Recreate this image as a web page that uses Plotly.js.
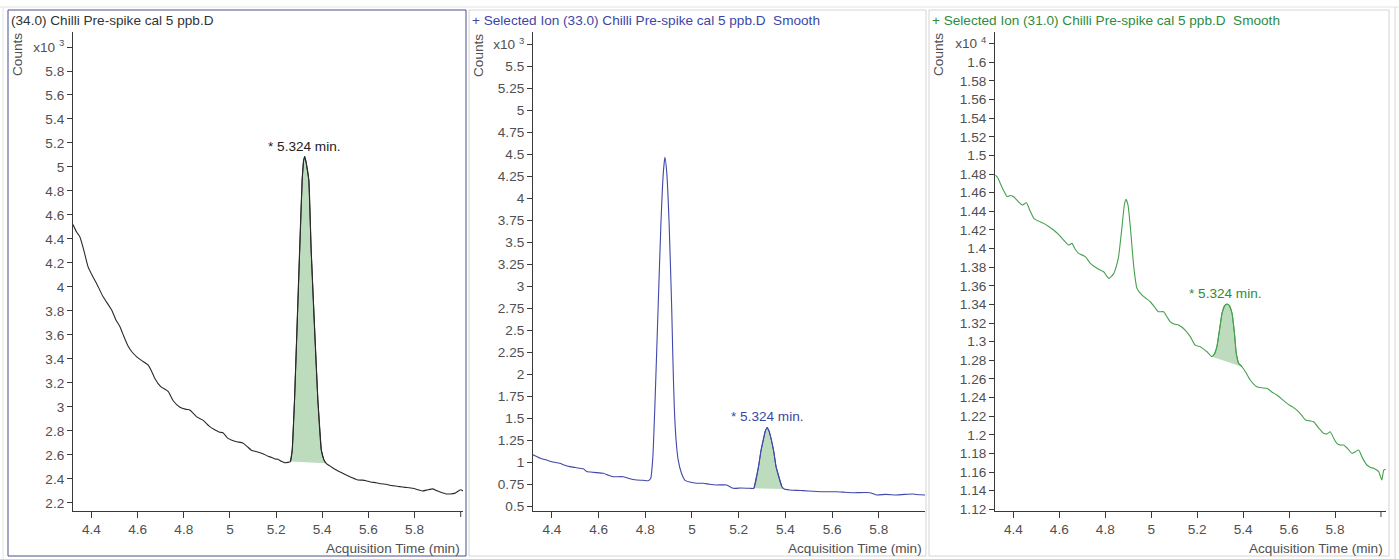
<!DOCTYPE html>
<html>
<head>
<meta charset="utf-8">
<script src="https://cdn.plot.ly/plotly-3.0.1.min.js"></script>
<style>html,body{margin:0;padding:0;background:#fff;}#chart{width:1399px;height:559px;}</style>
</head>
<body>
<div id="chart"></div>
<script>
// ---------- DATA ----------
const titles = [
  "(34.0) Chilli Pre-spike cal 5 ppb.D",
  "+ Selected Ion (33.0) Chilli Pre-spike cal 5 ppb.D  Smooth",
  "+ Selected Ion (31.0) Chilli Pre-spike cal 5 ppb.D  Smooth"
];
const peakLabel = "* 5.324 min.";
const peakRT = 5.324;
const xTitle = "Acquisition Time (min)";
const yTitle = "Counts";

const xTickVals = [4.4, 4.6, 4.8, 5.0, 5.2, 5.4, 5.6, 5.8];
const xTickText = ["4.4", "4.6", "4.8", "5", "5.2", "5.4", "5.6", "5.8"];
const xEndTick = 6.0;

const yTickVals1 = [2.2, 2.4, 2.6, 2.8, 3, 3.2, 3.4, 3.6, 3.8, 4, 4.2, 4.4, 4.6, 4.8, 5, 5.2, 5.4, 5.6, 5.8, 6.0];
const yTickText1 = ["2.2", "2.4", "2.6", "2.8", "3", "3.2", "3.4", "3.6", "3.8", "4", "4.2", "4.4", "4.6", "4.8", "5", "5.2", "5.4", "5.6", "5.8", "x10 <sup>3</sup>"];
const yTickVals2 = [0.5, 0.75, 1, 1.25, 1.5, 1.75, 2, 2.25, 2.5, 2.75, 3, 3.25, 3.5, 3.75, 4, 4.25, 4.5, 4.75, 5, 5.25, 5.5, 5.75];
const yTickText2 = ["0.5", "0.75", "1", "1.25", "1.5", "1.75", "2", "2.25", "2.5", "2.75", "3", "3.25", "3.5", "3.75", "4", "4.25", "4.5", "4.75", "5", "5.25", "5.5", "x10 <sup>3</sup>"];
const yTickVals3 = [1.12, 1.14, 1.16, 1.18, 1.2, 1.22, 1.24, 1.26, 1.28, 1.3, 1.32, 1.34, 1.36, 1.38, 1.4, 1.42, 1.44, 1.46, 1.48, 1.5, 1.52, 1.54, 1.56, 1.58, 1.6, 1.62];
const yTickText3 = ["1.12", "1.14", "1.16", "1.18", "1.2", "1.22", "1.24", "1.26", "1.28", "1.3", "1.32", "1.34", "1.36", "1.38", "1.4", "1.42", "1.44", "1.46", "1.48", "1.5", "1.52", "1.54", "1.56", "1.58", "1.6", "x10 <sup>4</sup>"];

// Panel 1: (34.0) trace, counts x10^3
const time1 = [4.320, 4.335, 4.349, 4.365, 4.385, 4.405, 4.422, 4.450, 4.487, 4.505, 4.523, 4.540, 4.558, 4.575, 4.595, 4.615, 4.645, 4.660, 4.674, 4.700, 4.732, 4.755, 4.782, 4.810, 4.826, 4.855, 4.883, 4.910, 4.934, 4.955, 4.970, 4.990, 5.006, 5.030, 5.056, 5.075, 5.093, 5.120, 5.143, 5.165, 5.179, 5.195, 5.208, 5.225, 5.237, 5.250,
  5.262, 5.270, 5.280, 5.291, 5.302, 5.313, 5.319, 5.324, 5.330, 5.342, 5.352, 5.366, 5.381, 5.396, 5.407, 5.417,
  5.440, 5.461, 5.480, 5.504, 5.530, 5.554, 5.575, 5.590, 5.610, 5.634, 5.655, 5.677, 5.700, 5.735, 5.760, 5.792, 5.815, 5.835, 5.858, 5.879, 5.900, 5.920, 5.937, 5.955, 5.973, 5.990, 6.000, 6.010];
const counts1 = [4.52, 4.46, 4.42, 4.32, 4.17, 4.09, 4.03, 3.92, 3.81, 3.73, 3.67, 3.59, 3.51, 3.46, 3.42, 3.39, 3.35, 3.30, 3.24, 3.17, 3.13, 3.05, 3.00, 2.98, 2.975, 2.92, 2.89, 2.84, 2.81, 2.79, 2.786, 2.74, 2.725, 2.71, 2.70, 2.67, 2.64, 2.625, 2.61, 2.59, 2.58, 2.567, 2.564, 2.545, 2.536, 2.538,
  2.545, 2.64, 3.06, 3.68, 4.31, 4.89, 5.05, 5.086, 5.04, 4.89, 4.31, 3.68, 3.06, 2.64, 2.56, 2.53,
  2.50, 2.475, 2.455, 2.433, 2.41, 2.392, 2.39, 2.385, 2.375, 2.369, 2.36, 2.356, 2.345, 2.336, 2.33, 2.322, 2.31, 2.30, 2.31, 2.317, 2.30, 2.285, 2.275, 2.275, 2.28, 2.30, 2.31, 2.30];
const peak1 = [5.262, 5.417];

// Panel 2: Selected Ion (33.0), counts x10^3
const time2 = [4.319, 4.335, 4.350, 4.377, 4.400, 4.434, 4.455, 4.477, 4.500, 4.520, 4.535, 4.549, 4.580, 4.620, 4.640, 4.663, 4.705, 4.730, 4.763, 4.790, 4.812,
  4.823, 4.832, 4.841, 4.848, 4.855, 4.867, 4.877, 4.884, 4.892, 4.902, 4.913, 4.918, 4.924, 4.932, 4.941, 4.955, 4.970,
  4.990, 5.020, 5.048, 5.075, 5.105, 5.148, 5.177, 5.210, 5.248,
  5.265, 5.285, 5.295, 5.305, 5.314, 5.322, 5.330, 5.340, 5.350, 5.360, 5.385, 5.395,
  5.419, 5.450, 5.476, 5.520, 5.562, 5.619, 5.650, 5.690, 5.762, 5.790, 5.830, 5.876, 5.910, 5.947, 5.975, 5.998];
const counts2 = [1.09, 1.07, 1.05, 1.03, 1.01, 0.993, 0.97, 0.955, 0.945, 0.936, 0.93, 0.90, 0.89, 0.88, 0.86, 0.841, 0.841, 0.82, 0.803, 0.80, 0.795,
  0.82, 1.05, 1.64, 2.20, 2.77, 3.72, 4.29, 4.47, 4.29, 3.72, 2.77, 2.20, 1.64, 1.25, 1.03, 0.88, 0.80,
  0.78, 0.766, 0.766, 0.755, 0.747, 0.747, 0.709, 0.712, 0.709,
  0.709, 0.955, 1.13, 1.258, 1.36, 1.40, 1.36, 1.258, 1.13, 0.955, 0.727, 0.70,
  0.69, 0.685, 0.682, 0.675, 0.67, 0.67, 0.665, 0.659, 0.659, 0.633, 0.64, 0.633, 0.64, 0.644, 0.635, 0.633];
const peak2 = [5.265, 5.395];

// Panel 3: Selected Ion (31.0), counts x10^4
const time3 = [4.322, 4.332, 4.343, 4.358, 4.373, 4.387, 4.401, 4.423, 4.438, 4.457, 4.470, 4.489, 4.510, 4.532, 4.555, 4.575, 4.595, 4.612, 4.641, 4.655, 4.670, 4.684, 4.713, 4.735, 4.764, 4.793, 4.805, 4.815, 4.826, 4.837,
  4.848, 4.858, 4.866, 4.873, 4.883, 4.890, 4.899, 4.909, 4.917, 4.924, 4.938, 4.960, 4.975, 4.996, 5.015, 5.032, 5.054, 5.068, 5.083, 5.100, 5.119, 5.148, 5.170, 5.191, 5.214, 5.228, 5.243,
  5.265, 5.276, 5.286, 5.297, 5.308, 5.320, 5.330, 5.340, 5.352, 5.362, 5.370, 5.380, 5.395,
  5.412, 5.431, 5.460, 5.480, 5.504, 5.525, 5.547, 5.570, 5.591, 5.615, 5.634, 5.655, 5.671, 5.690, 5.707, 5.730, 5.750, 5.765, 5.779, 5.795, 5.808, 5.822, 5.837, 5.856, 5.874, 5.890, 5.903, 5.920, 5.939, 5.955, 5.968, 5.990, 5.998, 6.004, 6.012, 6.020];
const counts3 = [1.479, 1.476, 1.470, 1.462, 1.4557, 1.457, 1.4557, 1.450, 1.4468, 1.4492, 1.442, 1.4325, 1.4295, 1.4271, 1.4235, 1.420, 1.4155, 1.411, 1.4038, 1.4056, 1.399, 1.3949, 1.3913, 1.3842, 1.3788, 1.3751, 1.371, 1.368, 1.370, 1.3734,
  1.381, 1.3913, 1.408, 1.4235, 1.4468, 1.4529, 1.4468, 1.4235, 1.400, 1.3805, 1.3573, 1.350, 1.347, 1.3429, 1.337, 1.3322, 1.3322, 1.327, 1.3214, 1.319, 1.3179, 1.3125, 1.3054, 1.2964, 1.2946, 1.292, 1.2892,
  1.2839, 1.287, 1.2946, 1.312, 1.3305, 1.339, 1.3405, 1.339, 1.3305, 1.310, 1.2875, 1.277, 1.2731,
  1.267, 1.2589, 1.2516, 1.2505, 1.2499, 1.246, 1.2427, 1.238, 1.2338, 1.230, 1.2266, 1.221, 1.2159, 1.215, 1.2141, 1.207, 1.2016, 1.201, 1.2033, 1.196, 1.1909, 1.189, 1.1891, 1.185, 1.1801, 1.182, 1.1837, 1.175, 1.1676, 1.165, 1.164, 1.1604, 1.155, 1.1515, 1.162, 1.163];
const peak3 = [5.265, 5.395];

// ---------- STYLE / LAYOUT ----------
const W = 1399, H = 559;
const px = v => v / W;
const py = v => 1 - v / H;
const FONT = "Liberation Sans, Arial, sans-serif";
const FS = 13.6;
const tickCol = "#505050";
const axCol = "#3a3a3a";
const fillCol = "#bddbbd";

const panels = [
  {t: time1, c: counts1, pk: peak1, col: "#2a2a2a", titleCol: "#333333", dom: [73, 463], xr: [4.32, 6.01], yr: [2.133, 6.125], tv: yTickVals1, tt: yTickText1, box: [8, 466], boxCol: "#4a4e8c", labCol: "#222222"},
  {t: time2, c: counts2, pk: peak2, col: "#4048a8", titleCol: "#3d46a6", dom: [533, 925], xr: [4.319, 5.998], yr: [0.451, 5.894], tv: yTickVals2, tt: yTickText2, box: [469, 926], boxCol: "#d4d4d4", labCol: "#3d46a6"},
  {t: time3, c: counts3, pk: peak3, col: "#45a04c", titleCol: "#2e8c3c", dom: [995, 1386], xr: [4.32, 6.022], yr: [1.1182, 1.6326], tv: yTickVals3, tt: yTickText3, box: [929, 1389], boxCol: "#d4d4d4", labCol: "#2e8c3c"}
];

const traces = [];
const layout = {
  width: W, height: H, autosize: false,
  margin: {l: 0, r: 0, t: 0, b: 0, pad: 0},
  paper_bgcolor: "#ffffff", plot_bgcolor: "#ffffff",
  showlegend: false,
  font: {family: FONT, size: FS, color: tickCol},
  shapes: [], annotations: []
};

panels.forEach((p, i) => {
  const n = i === 0 ? "" : String(i + 1);
  const xa = "x" + n, ya = "y" + n;
  // peak fill built from the series slice between the integration limits
  const fx = [], fy = [];
  p.t.forEach((tv, k) => { if (tv >= p.pk[0] - 1e-9 && tv <= p.pk[1] + 1e-9) { fx.push(tv); fy.push(p.c[k]); } });
  traces.push({x: fx, y: fy, xaxis: xa, yaxis: ya, type: "scatter", mode: "lines", fill: "toself", fillcolor: fillCol,
    line: {color: p.col, width: 1}, hoverinfo: "skip"});
  traces.push({x: p.t, y: p.c, xaxis: xa, yaxis: ya, type: "scatter", mode: "lines",
    line: {color: p.col, width: 1.1, shape: "spline", smoothing: 0.5}, hoverinfo: "skip"});

  const axCommon = {showgrid: false, zeroline: false, showline: true, linecolor: axCol, linewidth: 1,
    ticks: "outside", ticklen: 5, tickcolor: axCol, tickwidth: 1,
    tickfont: {family: FONT, size: FS, color: tickCol}, fixedrange: true};
  layout["xaxis" + n] = Object.assign({}, axCommon, {
    domain: [px(p.dom[0]), px(p.dom[1])], range: p.xr, anchor: ya,
    tickmode: "array", tickvals: xTickVals, ticktext: xTickText, ticklen: 6
  });
  layout["yaxis" + n] = Object.assign({}, axCommon, {
    domain: [py(511), py(32)], range: p.yr, anchor: xa,
    tickmode: "array", tickvals: p.tv, ticktext: p.tt
  });

  // unlabelled end tick on the time axis
  layout.shapes.push({type: "line", xref: xa, yref: "paper", x0: xEndTick, x1: xEndTick, y0: py(511), y1: py(517),
    line: {color: axCol, width: 1}});

  // panel frame
  layout.shapes.push({type: "rect", xref: "paper", yref: "paper", x0: px(p.box[0]), x1: px(p.box[1]), y0: py(556), y1: py(10),
    line: {color: p.boxCol, width: 1}, fillcolor: "rgba(0,0,0,0)", layer: "below"});

  // title
  layout.annotations.push({xref: "paper", yref: "paper", x: px(p.box[0] + 1), y: py(20), xanchor: "left", yanchor: "middle",
    text: titles[i], showarrow: false, font: {family: FONT, size: FS, color: p.titleCol}});
  // Counts label
  layout.annotations.push({xref: "paper", yref: "paper", x: px(p.box[0] + 10), y: py(55), xanchor: "center", yanchor: "middle",
    text: yTitle, textangle: -90, showarrow: false, font: {family: FONT, size: FS, color: tickCol}});
  // x axis title
  layout.annotations.push({xref: "paper", yref: "paper", x: px(p.dom[1] - 1), y: py(548), xanchor: "right", yanchor: "middle",
    text: xTitle, showarrow: false, font: {family: FONT, size: FS, color: tickCol}});
  // peak label
  const pkMax = Math.max.apply(null, fy);
  layout.annotations.push({xref: xa, yref: ya, x: peakRT, y: pkMax, xanchor: "center", yanchor: "bottom", yshift: 1,
    text: peakLabel, showarrow: false, font: {family: FONT, size: FS, color: p.labCol}});
});

// outer light frame lines
layout.shapes.push({type: "line", xref: "paper", yref: "paper", x0: 0, x1: 1, y0: py(7), y1: py(7), line: {color: "#e2e2e2", width: 1}});
layout.shapes.push({type: "line", xref: "paper", yref: "paper", x0: px(1395), x1: px(1395), y0: py(7), y1: py(559), line: {color: "#d8d8d8", width: 1}});
layout.shapes.push({type: "line", xref: "paper", yref: "paper", x0: px(3), x1: px(3), y0: py(7), y1: py(559), line: {color: "#e2e2e2", width: 1}});

Plotly.newPlot("chart", traces, layout, {staticPlot: true, displayModeBar: false});
</script>
</body>
</html>
